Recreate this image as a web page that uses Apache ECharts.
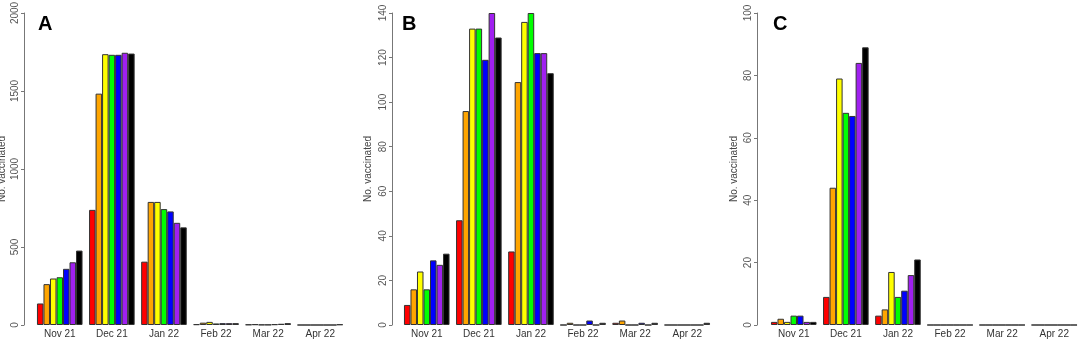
<!DOCTYPE html>
<html>
<head>
<meta charset="utf-8">
<script src="https://cdn.jsdelivr.net/npm/echarts@6/dist/echarts.min.js"></script>
<style>
  html, body { margin: 0; padding: 0; background: #fff; }
  #chart { width: 1083px; height: 343px; }
</style>
</head>
<body>
<div id="chart"></div>
<script>
var months = ['Nov 21', 'Dec 21', 'Jan 22', 'Feb 22', 'Mar 22', 'Apr 22'];
var barColors = ['#ff0000', '#ffa500', '#ffff00', '#00ff00', '#0000ff', '#a020f0', '#000000'];
var panelLetters = ['A', 'B', 'C'];

// one row per colour, one value per month
var valuesA = [
    [138, 738, 406, 5, 3, 0],
    [262, 1483, 789, 15, 5, 0],
    [298, 1736, 789, 20, 2, 0],
    [306, 1732, 743, 10, 2, 0],
    [360, 1732, 728, 12, 5, 0],
    [402, 1745, 655, 12, 8, 0],
    [477, 1740, 626, 12, 12, 4]
];
var valuesB = [
    [9, 47, 33, 0, 1, 0],
    [16, 96, 109, 1, 2, 0],
    [24, 133, 136, 0, 0, 0],
    [16, 133, 140, 0, 0, 0],
    [29, 119, 122, 2, 1, 0],
    [27, 140, 122, 0, 0, 0],
    [32, 129, 113, 1, 1, 1]
];
var valuesC = [
    [1, 9, 3, 0, 0, 0],
    [2, 44, 5, 0, 0, 0],
    [1, 79, 17, 0, 0, 0],
    [3, 68, 9, 0, 0, 0],
    [3, 67, 11, 0, 0, 0],
    [1, 84, 16, 0, 0, 0],
    [1, 89, 21, 0, 0, 0]
];
var yMax = [2000, 140, 100];
var yStep = [500, 20, 20];

var allValues = [valuesA, valuesB, valuesC];
var gridLeft = [33.7, 400.7, 767.7];
var axisOffset = [9.7, 8.7, 10.7];
var nameGaps = [16.5, 19, 18];
var letterLeft = [38, 402, 773];
var font = 'Liberation Sans';

var grids = [], xAxes = [], yAxes = [], titles = [], series = [];
for (var p = 0; p < 3; p++) {
    grids.push({left: gridLeft[p], width: 312.6, top: 13, height: 312, outerBoundsMode: 'none'});
    xAxes.push({
        type: 'category', gridIndex: p, data: months,
        axisLine: {show: false}, axisTick: {show: false},
        axisLabel: {margin: 4, fontSize: 10, color: '#333', fontFamily: font}
    });
    yAxes.push({
        type: 'value', gridIndex: p, min: 0, max: yMax[p], interval: yStep[p],
        offset: axisOffset[p],
        name: 'No. vaccinated', nameLocation: 'middle', nameGap: nameGaps[p],
        nameTextStyle: {fontSize: 10, color: '#444', fontFamily: font},
        axisLine: {show: true, lineStyle: {color: '#777', width: 1}},
        axisTick: {show: true, length: 3, lineStyle: {color: '#777'}},
        axisLabel: {
            rotate: 90, margin: 4, fontSize: 10, color: '#555', fontFamily: font,
            formatter: function (v) { return String(v); }
        },
        splitLine: {show: false}
    });
    titles.push({
        text: panelLetters[p], left: letterLeft[p], top: 14, padding: 0,
        textStyle: {fontSize: 20, fontWeight: 'bold', color: '#000', fontFamily: font}
    });
    for (var i = 0; i < barColors.length; i++) {
        series.push({
            type: 'bar', xAxisIndex: p, yAxisIndex: p,
            data: allValues[p][i],
            barGap: '0%', barCategoryGap: '12.5%',
            itemStyle: {color: barColors[i], borderColor: '#333', borderWidth: 1}
        });
    }
}

var chart = echarts.init(document.getElementById('chart'));
chart.setOption({
    animation: false,
    backgroundColor: '#fff',
    title: titles,
    grid: grids,
    xAxis: xAxes,
    yAxis: yAxes,
    series: series
});
</script>
</body>
</html>
